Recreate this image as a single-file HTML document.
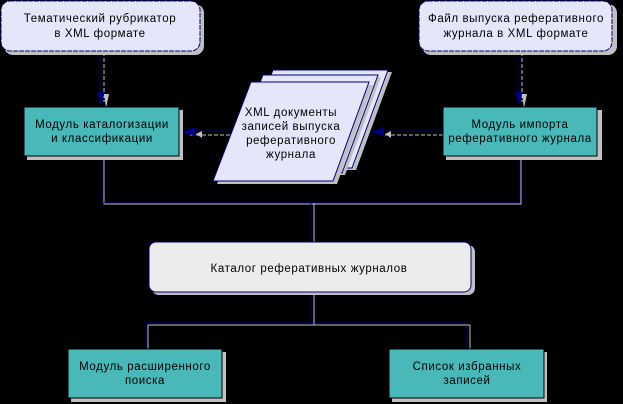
<!DOCTYPE html>
<html><head><meta charset="utf-8"><style>
html,body{margin:0;padding:0;background:#000;}
svg{display:block}
text{font-family:"Liberation Sans","DejaVu Sans",sans-serif;font-size:11.5px;fill:#000;letter-spacing:0.6px}
</style></head><body>
<svg width="623" height="404" viewBox="0 0 623 404" xmlns="http://www.w3.org/2000/svg">
<!-- connectors -->
<g fill="none" stroke-width="1">
<path d="M103 157V203H520V157" stroke="#c0c0c0" transform="translate(1,1)"/>
<path d="M103 157V203H520V157" stroke="#000080"/>
<path d="M311 203V242" stroke="#c0c0c0" transform="translate(3,0)"/>
<path d="M311 203V242" stroke="#000080"/>
<path d="M311 293V323M146 323H466M146 323V349M466 323V349" stroke="#000080"/>
<path d="M314 293V325M148 325H470M148 325V349M470 325V349" stroke="#c0c0c0"/>
<path d="M100 52V102" stroke="#000080" stroke-dasharray="4,2"/>
<path d="M104 52V102" stroke="#c0c0c0" stroke-dasharray="4,2"/>
<path d="M518 52V102" stroke="#000080" stroke-dasharray="4,2"/>
<path d="M522 52V102" stroke="#c0c0c0" stroke-dasharray="4,2"/>
<path d="M190 131H233" stroke="#000080" stroke-dasharray="4,2"/>
<path d="M190 135H233" stroke="#c0c0c0" stroke-dasharray="4,2"/>
<path d="M380 131H443" stroke="#000080" stroke-dasharray="4,2"/>
<path d="M385 135H443" stroke="#c0c0c0" stroke-dasharray="4,2"/>
</g>
<g fill="#000080">
<polygon points="97,92 105,92 101,106"/>
<polygon points="515,92 523,92 519,106"/>
<polygon points="181,132 195,127 195,136"/>
<polygon points="370,132 384,127 384,136"/>
</g>
<g fill="#c0c0c0">
<polygon points="104,94 109,94 106,108"/>
<polygon points="522,94 527,94 524,108"/>
<polygon points="196,134 202,131 202,138"/>
<polygon points="385,134 391,131 391,138"/>
</g>
<!-- top boxes -->
<rect x="4" y="4" width="200" height="51" rx="9" fill="#c0c0c0"/>
<rect x="1" y="1" width="199" height="50" rx="9" fill="#e6e6fa" stroke="#000080" stroke-dasharray="5,1"/>
<text x="100" y="22" text-anchor="middle">Тематический рубрикатор</text>
<text x="100" y="37" text-anchor="middle">в XML формате</text>
<rect x="422" y="4" width="195" height="51" rx="9" fill="#c0c0c0"/>
<rect x="419" y="1" width="193" height="50" rx="9" fill="#e6e6fa" stroke="#000080" stroke-dasharray="5,1"/>
<text x="516" y="22" text-anchor="middle">Файл выпуска реферативного</text>
<text x="516" y="37" text-anchor="middle">журнала в XML формате</text>
<!-- teal boxes -->
<g>
<rect x="27" y="110" width="156" height="50" fill="#c0c0c0"/>
<rect x="24" y="107" width="155" height="49" fill="#48b8b8" stroke="#000"/>
<text x="102" y="128" text-anchor="middle">Модуль каталогизации</text>
<text x="102" y="142" text-anchor="middle">и классификации</text>
<rect x="446" y="110" width="156" height="50" fill="#c0c0c0"/>
<rect x="443" y="107" width="154" height="49" fill="#48b8b8" stroke="#000"/>
<text x="520" y="128" text-anchor="middle">Модуль импорта</text>
<text x="520" y="142" text-anchor="middle">реферативного журнала</text>
<rect x="71" y="352" width="155" height="50" fill="#c0c0c0"/>
<rect x="68" y="349" width="154" height="49" fill="#48b8b8" stroke="#000"/>
<text x="145" y="370" text-anchor="middle">Модуль расширенного</text>
<text x="145" y="384" text-anchor="middle">поиска</text>
<rect x="392" y="352" width="155" height="50" fill="#c0c0c0"/>
<rect x="389" y="349" width="155" height="49" fill="#48b8b8" stroke="#000"/>
<text x="467" y="370" text-anchor="middle">Список избранных</text>
<text x="467" y="384" text-anchor="middle">записей</text>
</g>
<!-- document stack -->
<g stroke="#000080">
<polygon points="277,72 392,72 356,170 238,170" fill="#c0c0c0" stroke="none"/>
<polygon points="273,70 388,70 352,168 234,168" fill="#e6e6fa"/>
<polygon points="267,77 381,77 345,175 228,175" fill="#c0c0c0" stroke="none"/>
<polygon points="263,75 378,75 342,173 224,173" fill="#e6e6fa"/>
<polygon points="255,85 373,85 337,184 217,184" fill="#c0c0c0" stroke="none"/>
<polygon points="251,82 369,82 333,181 213,181" fill="#e6e6fa"/>
</g>
<text x="291" y="116" text-anchor="middle">XML документы</text>
<text x="291" y="130" text-anchor="middle">записей выпуска</text>
<text x="291" y="144" text-anchor="middle">реферативного</text>
<text x="291" y="158" text-anchor="middle">журнала</text>
<!-- catalog -->
<rect x="152" y="245" width="323" height="50" rx="7" fill="#c0c0c0"/>
<rect x="149" y="242" width="322" height="50" rx="7" fill="#ececec" stroke="#000080"/>
<text x="309" y="272" text-anchor="middle">Каталог реферативных журналов</text>
</svg>
</body></html>
